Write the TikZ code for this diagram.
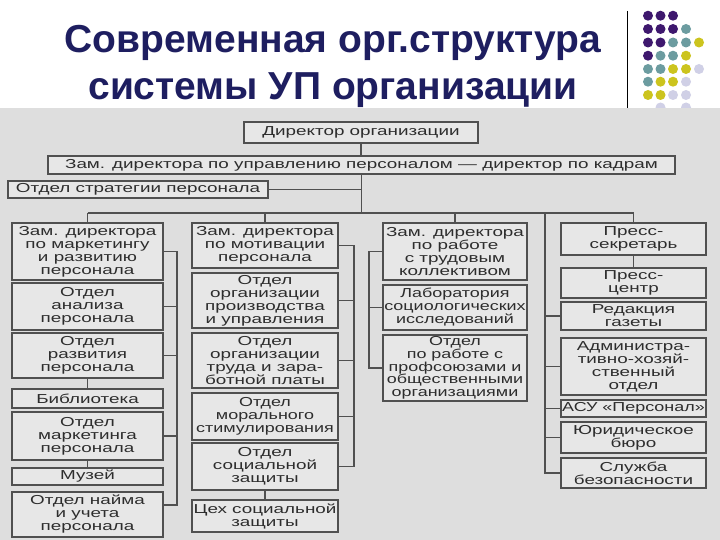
\documentclass[tikz,border=0pt]{standalone}
\usepackage{fontspec}
\setmainfont{Liberation Sans}
\newfontfamily\chartfont{Liberation Sans}[FakeStretch=1.45]
\newfontfamily\chartnarrow{Liberation Sans}[FakeStretch=1.38]
\definecolor{titlecol}{RGB}{30,30,96}
\definecolor{scanbg}{RGB}{222,222,222}
\definecolor{boxbg}{RGB}{231,231,231}
\definecolor{linegray}{RGB}{80,80,80}
\definecolor{textgray}{RGB}{45,45,45}
\definecolor{dP}{RGB}{62,24,110}
\definecolor{dT}{RGB}{108,156,160}
\definecolor{dY}{RGB}{204,196,30}
\definecolor{dL}{RGB}{208,208,230}
\begin{document}
\begin{tikzpicture}[x=1pt,y=-1pt,
  box/.style={draw=linegray, line width=1.4pt, fill=boxbg, inner sep=0pt, align=center,
    text=textgray, font=\chartfont\fontsize{13}{13}\selectfont},
  conn/.style={draw=linegray, line width=1.3pt},
  dot/.style={circle, inner sep=0pt, minimum size=10pt}]
\useasboundingbox (0,0) rectangle (720,540);
\fill[white] (0,0) rectangle (720,540);
% title
\node[anchor=base, font=\bfseries\fontsize{39}{47}\selectfont, text=titlecol] (t1) at (333,53) {Современная орг.структура};
\node[anchor=base, font=\bfseries\fontsize{39}{47}\selectfont, text=titlecol] (t2) at (333,100) {системы УП организации};
% decoration: line and dots
\draw[line width=1pt, black] (627,11) -- (627,110);
\foreach \c/\x/\y in {dP/648/15.7, dP/660.5/15.7, dP/673/15.7,
  dP/648/29, dP/660.5/29, dP/673/29, dT/686/29,
  dP/648/42.5, dP/660.5/42.5, dT/673/42.5, dT/686/42.5, dY/699/42.5,
  dP/648/55.7, dT/660.5/55.7, dT/673/55.7, dY/686/55.7,
  dT/648/69, dT/660.5/69, dY/673/69, dY/686/69, dL/699/69,
  dT/648/81.7, dY/660.5/81.7, dY/673/81.7, dL/686/81.7,
  dY/648/95, dY/660.5/95, dL/673/95, dL/686/95,
  dL/660.5/107.5, dL/686/107.5}
  \fill[\c] (\x,\y) circle (5);
% scan background
\fill[scanbg] (0,108) rectangle (720,540);
% top boxes
\node[box, minimum width=234pt, minimum height=21pt] (dir) at (361,132.5) {Директор организации};
\node[box, minimum width=627pt, minimum height=18pt] (zam) at (361.5,165) {Зам. директора по управлению персоналом — директор по кадрам};
\node[box, minimum width=260pt, minimum height=17pt] (strat) at (138,189.5) {Отдел стратегии персонала};
% column 1
\node[box, minimum width=151pt, minimum height=57pt] (c1a) at (87.5,251.5) {Зам. директора\\по маркетингу\\и развитию\\персонала};
\node[box, minimum width=151pt, minimum height=47pt] (c1b) at (87.5,306.5) {Отдел\\анализа\\персонала};
\node[box, minimum width=151pt, minimum height=45pt] (c1c) at (87.5,355.5) {Отдел\\развития\\персонала};
\node[box, minimum width=151pt, minimum height=19pt] (c1d) at (87.5,398.5) {Библиотека};
\node[box, minimum width=151pt, minimum height=48pt] (c1e) at (87.5,436) {Отдел\\маркетинга\\персонала};
\node[box, minimum width=151pt, minimum height=17pt] (c1f) at (87.5,476.5) {Музей};
\node[box, minimum width=151pt, minimum height=45pt] (c1g) at (87.5,514.5) {Отдел найма\\и учета\\персонала};
% column 2
\node[box, minimum width=146pt, minimum height=45pt] (c2a) at (265,245.5) {Зам. директора\\по мотивации\\персонала};
\node[box, minimum width=146pt, minimum height=55pt] (c2b) at (265,300.5) {Отдел\\организации\\производства\\и управления};
\node[box, minimum width=146pt, minimum height=55pt] (c2c) at (265,360.5) {Отдел\\организации\\труда и зара-\\ботной платы};
\node[box, minimum width=146pt, minimum height=47pt, font=\chartnarrow\fontsize{13}{13}\selectfont] (c2d) at (265,416.5) {Отдел\\морального\\стимулирования};
\node[box, minimum width=146pt, minimum height=47pt] (c2e) at (265,466.5) {Отдел\\социальной\\защиты};
\node[box, minimum width=146pt, minimum height=32pt] (c2f) at (265,516) {Цех социальной\\защиты};
% column 3
\node[box, minimum width=144pt, minimum height=57pt] (c3a) at (455,251.5) {Зам. директора\\по работе\\с трудовым\\коллективом};
\node[box, minimum width=144pt, minimum height=45pt, font=\chartnarrow\fontsize{13}{13}\selectfont] (c3b) at (455,307.5) {Лаборатория\\социологических\\исследований};
\node[box, minimum width=144pt, minimum height=66pt, font=\chartnarrow\fontsize{13}{12.6}\selectfont] (c3c) at (455,368) {Отдел\\по работе с\\профсоюзами и\\общественными\\организациями};
% column 4
\node[box, minimum width=145pt, minimum height=32pt] (c4a) at (633.5,239) {Пресс-\\секретарь};
\node[box, minimum width=145pt, minimum height=30pt] (c4b) at (633.5,283) {Пресс-\\центр};
\node[box, minimum width=145pt, minimum height=28pt] (c4c) at (633.5,316) {Редакция\\газеты};
\node[box, minimum width=145pt, minimum height=57pt] (c4d) at (633.5,366.5) {Администра-\\тивно-хозяй-\\ственный\\отдел};
\node[box, minimum width=145pt, minimum height=17pt, font=\chartnarrow\fontsize{13}{13}\selectfont] (c4e) at (633.5,408.5) {АСУ «Персонал»};
\node[box, minimum width=145pt, minimum height=31pt] (c4f) at (633.5,437.5) {Юридическое\\бюро};
\node[box, minimum width=145pt, minimum height=30pt] (c4g) at (633.5,473) {Служба\\безопасности};
% connectors top
\coordinate (busL) at (87.5,213);
\coordinate (busR) at (633.5,213);
\coordinate (b1) at (177,213);
\coordinate (b2) at (354,213);
\coordinate (b3) at (369,213);
\coordinate (b4) at (545,213);
\draw[conn] (dir.south) -- (dir.south |- zam.north);
\draw[conn] (zam.south) -- (zam.south |- busL);
\draw[conn] (strat.east) -- (strat.east -| zam.south);
\draw[conn] (busL) -- (busR);
\draw[conn] (c1a.north) -- (c1a.north |- busL);
\draw[conn] (c2a.north) -- (c2a.north |- busL);
\draw[conn] (c3a.north) -- (c3a.north |- busL);
\draw[conn] (c4a.north) -- (c4a.north |- busL);
% column 1 connectors
\coordinate (g1) at ([yshift=9.5pt]c1g.east);
\draw[conn] (c1a.east) -- (c1a.east -| b1) -- (b1 |- g1) -- (g1);
\draw[conn] (c1b.east) -- (c1b.east -| b1);
\draw[conn] (c1c.east) -- (c1c.east -| b1);
\draw[conn] (c1e.east) -- (c1e.east -| b1);
\draw[conn] (c1c.south) -- (c1d.north);
\draw[conn] (c1e.south) -- (c1f.north);
% column 2 connectors
\draw[conn] (c2a.east) -- (c2a.east -| b2) -- (b2 |- c2e.east) -- (c2e.east);
\draw[conn] (c2b.east) -- (c2b.east -| b2);
\draw[conn] (c2c.east) -- (c2c.east -| b2);
\draw[conn] (c2d.east) -- (c2d.east -| b2);
\draw[conn] (c2e.south) -- (c2f.north);
% column 3 connectors
\draw[conn] (c3a.west) -- (c3a.west -| b3) -- (b3 |- c3c.west) -- (c3c.west);
\draw[conn] (c3b.west) -- (c3b.west -| b3);
% column 4 connectors
\draw[conn] (b4) -- (b4 |- c4g.west) -- (c4g.west);
\draw[conn] (c4c.west) -- (c4c.west -| b4);
\draw[conn] (c4d.west) -- (c4d.west -| b4);
\draw[conn] (c4e.west) -- (c4e.west -| b4);
\draw[conn] (c4f.west) -- (c4f.west -| b4);
\draw[conn] (c4a.south) -- (c4b.north);
\end{tikzpicture}
\end{document}
